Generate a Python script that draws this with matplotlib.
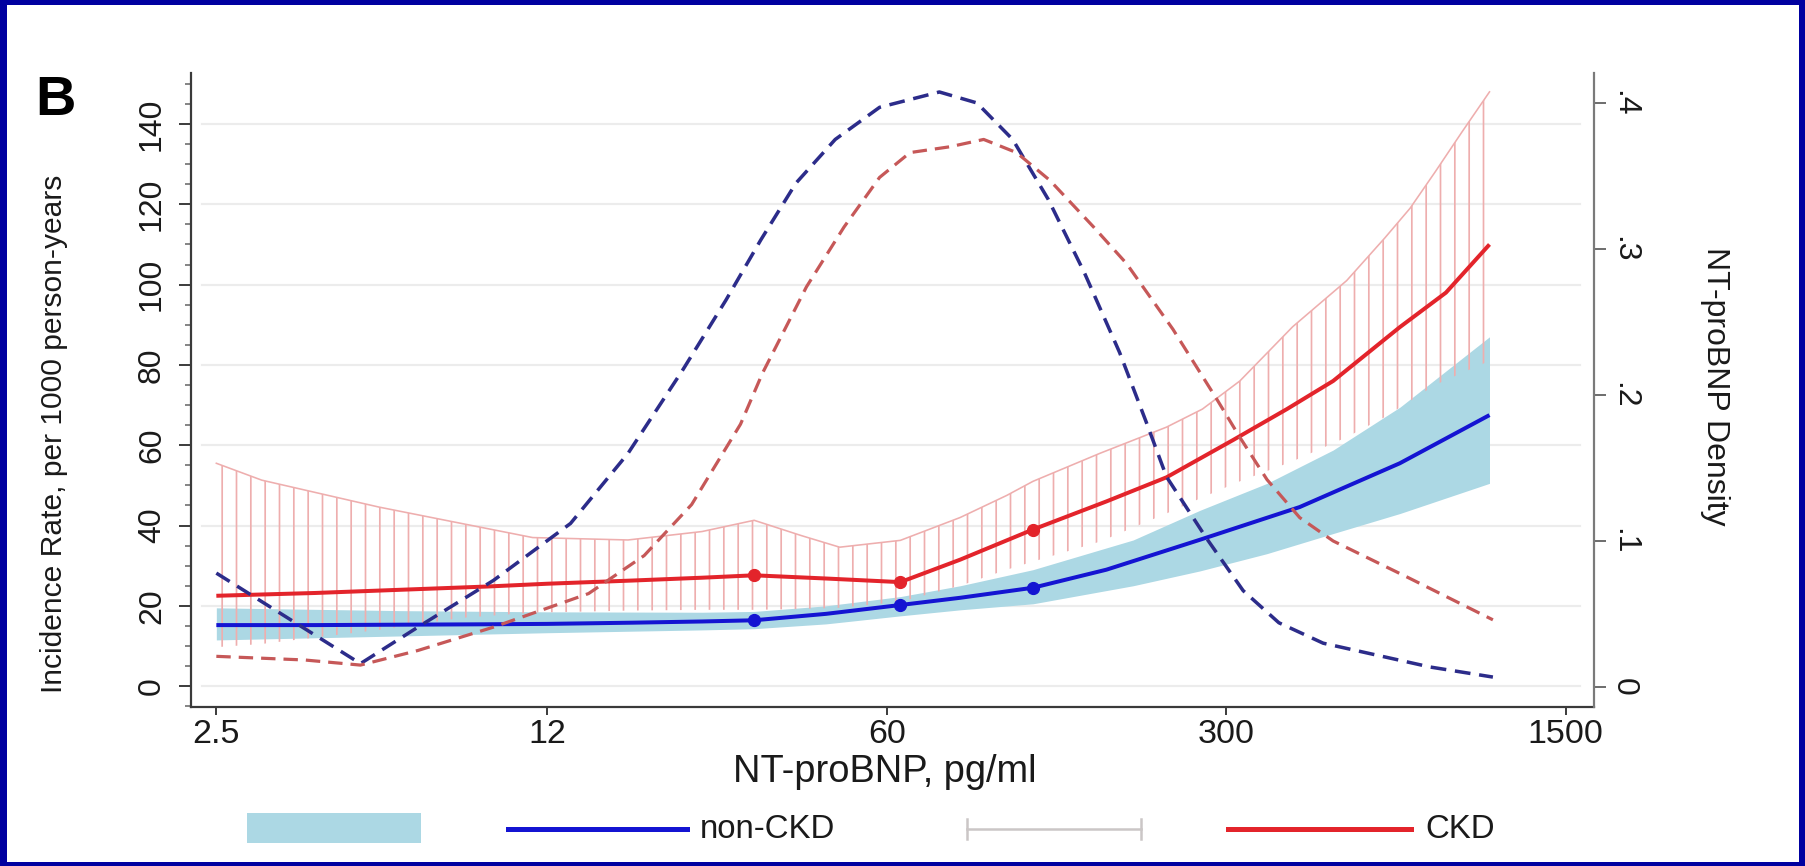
import matplotlib

matplotlib.use("Agg")
import matplotlib.pyplot as plt
from matplotlib.lines import Line2D
from matplotlib.patches import Rectangle
from matplotlib.ticker import MultipleLocator, NullLocator

W, H, DPI = 1805, 866, 86

# ----- data -----------------------------------------------------------------
# incidence rate per 1000 person-years, non-CKD
x_nckd = [2.5, 4, 6, 9, 12, 18, 25, 32, 45, 64, 85, 120, 170, 264, 425, 683, 1045]
ir_nckd = [15.2, 15.2, 15.3, 15.4, 15.5, 15.8, 16.1, 16.4, 18.0, 20.2, 22.0, 24.5,
           29.0, 36.4, 44.6, 55.5, 67.5]

# 95% CI band, non-CKD
x_nckd_ci = [2.5, 6, 12, 25, 32, 45, 64, 85, 120, 193, 265, 364, 498, 684, 1045]
lo_nckd = [11.5, 12.5, 13.3, 14.0, 14.3, 15.5, 17.5, 19.0, 20.5, 25.0, 28.7, 33.0,
           38.0, 43.0, 50.5]
hi_nckd = [19.5, 18.8, 18.5, 18.4, 18.6, 20.0, 22.3, 25.0, 29.0, 36.4, 43.8, 50.5,
           58.8, 69.5, 87.0]

# incidence rate, CKD
x_ckd = [2.5, 4, 6, 9, 12, 18, 25, 32, 45, 64, 85, 120, 170, 226, 310, 400, 498,
         683, 850, 1045]
ir_ckd = [22.5, 23.2, 24.0, 24.8, 25.5, 26.3, 27.0, 27.6, 26.8, 25.9, 31.5, 39.0,
          46.0, 52.0, 61.3, 69.0, 76.0, 89.4, 98.0, 110.0]

# 95% CI (capped bars), CKD
x_ckd_ci = [2.5, 3.1, 5.4, 8, 11.2, 17.6, 25, 32, 40, 48, 64, 85, 106, 120, 165,
            226, 268, 320, 411, 531, 636, 717, 807, 917, 1045]
hi_ckd = [55.5, 51.3, 44.6, 40.5, 37.0, 36.4, 38.5, 41.3, 37.5, 34.6, 36.3, 42.0,
          47.5, 51.0, 58.0, 64.5, 69.0, 76.0, 89.5, 101.0, 111.6, 119.0, 128.0,
          138.0, 148.0]
lo_ckd = [9.7, 10.5, 14.0, 17.0, 18.3, 18.8, 19.0, 19.0, 19.2, 19.5, 21.0, 25.0,
          29.0, 31.0, 36.0, 43.0, 47.0, 51.0, 56.0, 62.0, 67.0, 71.0, 75.0, 78.0,
          81.0]

# marked points on both curves
x_marks = [32, 64, 120]
mark_nckd = [16.4, 20.2, 24.5]
mark_ckd = [27.6, 25.9, 39.0]

# NT-proBNP density (right axis)
x_dens_nckd = [2.5, 4.95, 6.5, 9.3, 13.4, 17.6, 22.8, 28, 33, 39, 47, 58, 77, 92,
               109, 129, 153, 181, 205, 226, 273, 325, 385, 475, 638, 788, 1062]
dens_nckd = [0.078, 0.016, 0.041, 0.073, 0.112, 0.160, 0.217, 0.265, 0.306, 0.345,
             0.375, 0.397, 0.4075, 0.400, 0.375, 0.334, 0.284, 0.229, 0.182, 0.144,
             0.102, 0.066, 0.044, 0.030, 0.0205, 0.0137, 0.0068]
x_dens_ckd = [2.5, 3.8, 4.95, 6.5, 9.3, 14.6, 19, 23.8, 27, 30, 33.3, 41, 49, 58, 67,
              81, 95, 111, 130, 160, 187, 233, 287, 320, 364, 425, 498, 710, 1062]
dens_ckd = [0.021, 0.0185, 0.015, 0.025, 0.041, 0.064, 0.090, 0.125, 0.155, 0.180,
            0.215, 0.274, 0.315, 0.349, 0.366, 0.370, 0.375, 0.366, 0.347, 0.315,
            0.290, 0.245, 0.197, 0.171, 0.142, 0.116, 0.100, 0.075, 0.046]

xticks = [2.5, 12, 60, 300, 1500]
xtick_labels = ["2.5", "12", "60", "300", "1500"]
yticks = [0, 20, 40, 60, 80, 100, 120, 140]
dticks = [0, 0.1, 0.2, 0.3, 0.4]
dtick_labels = ["0", ".1", ".2", ".3", ".4"]

BLUE = "#1414d2"
RED = "#e3242b"
BAND = "#acd8e4"
BARS = "#eeaeae"
BLUE_D = "#2c2c8a"
RED_D = "#c65858"
FRAME = "#0000a0"


def pt(p):
    """pixels -> points at the output dpi"""
    return p * 72.0 / DPI


plt.rcParams["font.family"] = ["Liberation Sans", "DejaVu Sans"]
plt.rcParams["hatch.linewidth"] = pt(1.7)

fig = plt.figure(figsize=(W / DPI, H / DPI), dpi=DPI, facecolor=FRAME)
fig.add_artist(Rectangle((7 / W, 4 / H), (W - 13) / W, (H - 9) / H,
                         transform=fig.transFigure, facecolor="white",
                         edgecolor="none", zorder=-1))

ax = fig.add_axes([191 / W, 1 - 707 / H, (1594 - 191) / W, (707 - 73) / H])
ax.patch.set_visible(False)
ax.set_xscale("log")
ax.set_xlim(2.217, 1715)
ax.set_ylim(-5.2, 152.7)

for v in yticks:
    ax.axhline(v, xmin=0.008, xmax=0.99, color="#ececec", lw=pt(2.2), zorder=0)

# CI band (non-CKD) and capped bars (CKD)
ax.fill_between(x_nckd_ci, lo_nckd, hi_nckd, color=BAND, lw=0, zorder=1)
ax.fill_between(x_ckd_ci, lo_ckd, hi_ckd, facecolor="none", edgecolor=BARS,
                hatch="|", lw=0, zorder=2)
ax.plot(x_ckd_ci, hi_ckd, color=BARS, lw=pt(1.6), zorder=2)

ax.plot(x_nckd, ir_nckd, color=BLUE, lw=pt(4), zorder=4, solid_capstyle="butt")
ax.plot(x_ckd, ir_ckd, color=RED, lw=pt(4), zorder=4, solid_capstyle="butt")
ax.plot(x_marks, mark_nckd, "o", color=BLUE, ms=pt(12), zorder=5)
ax.plot(x_marks, mark_ckd, "o", color=RED, ms=pt(12), zorder=5)

ax.set_xticks(xticks)
ax.set_xticklabels(xtick_labels)
ax.xaxis.set_minor_locator(NullLocator())
ax.set_yticks(yticks)
ax.yaxis.set_minor_locator(MultipleLocator(5))
ax.tick_params(axis="x", labelsize=pt(34), length=pt(8), width=pt(2),
               pad=pt(4), color="#404040", labelcolor="#1a1a1a")
ax.tick_params(axis="y", which="major", labelsize=pt(32), length=pt(12),
               width=pt(2), pad=pt(12), labelrotation=90, color="#404040",
               labelcolor="#1a1a1a")
ax.tick_params(axis="y", which="minor", length=pt(6), width=pt(1.5),
               color="#606060")
for lab in ax.get_yticklabels():
    lab.set_va("center")
for side in ("top", "right"):
    ax.spines[side].set_visible(False)
for side in ("left", "bottom"):
    ax.spines[side].set_color("#3a3a3a")
    ax.spines[side].set_linewidth(pt(2.2))

# density on the right axis
ax2 = ax.twinx()
ax2.set_ylim(-0.0137, 0.4205)
ax2.plot(x_dens_nckd, dens_nckd, color=BLUE_D, lw=pt(3.5), ls=(0, (4.5, 2.5)))
ax2.plot(x_dens_ckd, dens_ckd, color=RED_D, lw=pt(3.2), ls=(0, (4.5, 2.5)))
ax2.set_yticks(dticks)
ax2.set_yticklabels(dtick_labels)
ax2.tick_params(axis="y", labelsize=pt(32), length=pt(12), width=pt(2),
                pad=pt(3), labelrotation=-90, color="#707070",
                labelcolor="#1a1a1a")
for lab in ax2.get_yticklabels():
    lab.set_va("center")
for side in ("top", "left", "bottom"):
    ax2.spines[side].set_visible(False)
ax2.spines["right"].set_color("#7a7a7a")
ax2.spines["right"].set_linewidth(pt(2.2))

# axis titles and panel letter
fig.text(54 / W, 1 - 434 / H, "Incidence Rate, per 1000 person-years",
         rotation=90, ha="center", va="center", fontsize=pt(30), color="#1a1a1a")
fig.text(1715 / W, 1 - 386 / H, "NT-proBNP Density", rotation=-90,
         ha="center", va="center", fontsize=pt(32), color="#1a1a1a")
fig.text(885 / W, 1 - 782 / H, "NT-proBNP, pg/ml", ha="center", va="baseline",
         fontsize=pt(38), color="#1a1a1a")
fig.text(35 / W, 1 - 115 / H, "B", ha="left", va="baseline",
         fontsize=pt(56), fontweight="bold", color="black")

# legend row
ly = 1 - 829 / H
fig.add_artist(Rectangle((247 / W, 1 - 843 / H), 174 / W, 30 / H,
                         transform=fig.transFigure, facecolor=BAND, lw=0))
fig.add_artist(Line2D([508 / W, 687 / W], [ly, ly], transform=fig.transFigure,
                      color=BLUE, lw=pt(5)))
fig.text(700 / W, ly, "non-CKD", ha="left", va="center", fontsize=pt(33),
         color="#1a1a1a")
fig.add_artist(Line2D([967 / W, 1141 / W], [ly, ly], transform=fig.transFigure,
                      color="#cbc6c6", lw=pt(2.5)))
for xc in (967, 1141):
    fig.add_artist(Line2D([xc / W, xc / W], [ly - 10 / H, ly + 10 / H],
                          transform=fig.transFigure, color="#cbc6c6", lw=pt(2.5)))
fig.add_artist(Line2D([1228 / W, 1411 / W], [ly, ly], transform=fig.transFigure,
                      color=RED, lw=pt(5)))
fig.text(1425 / W, ly, "CKD", ha="left", va="center", fontsize=pt(33),
         color="#1a1a1a")

fig.savefig("out.png", dpi=DPI, facecolor=FRAME)
